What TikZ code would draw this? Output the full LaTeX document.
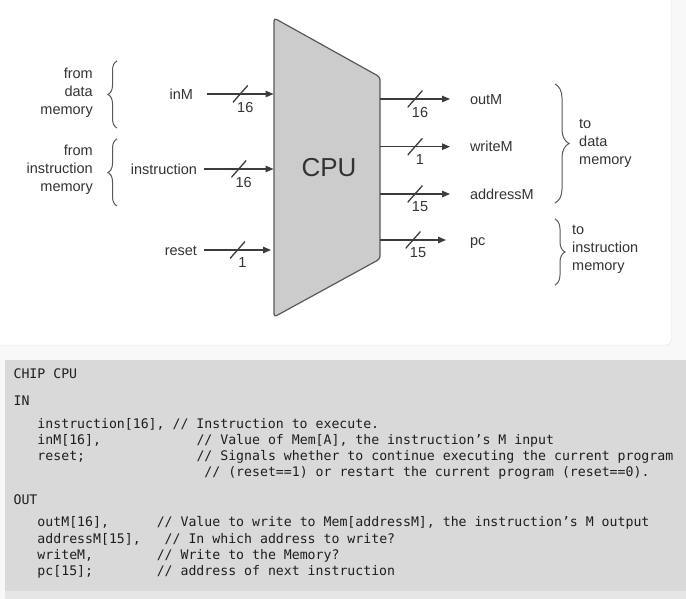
\documentclass[tikz,border=0pt]{standalone}
\usepackage{fontspec}
\setmainfont{Liberation Sans}
\setmonofont{DejaVu Sans Mono}
\usepackage{xcolor}
\definecolor{colorPage}{HTML}{F8F8F8}
\definecolor{colorCardLine}{HTML}{E2E2E2}
\definecolor{colorCode}{HTML}{D9D9D9}
\definecolor{colorCodeFoot}{HTML}{E6E6E6}
\definecolor{colorCpu}{HTML}{CCCCCC}
\definecolor{colorCpuLine}{HTML}{595959}
\definecolor{colorWire}{HTML}{3C3C3C}
\definecolor{colorText}{HTML}{333333}
\definecolor{colorCodeText}{HTML}{1E1E1E}
\usepackage{tikz}
\usetikzlibrary{arrows.meta, decorations.pathreplacing}
\tikzset{
  wire/.style={draw=colorWire, line width=1.3pt},
  inlabel/.style={anchor=east, inner sep=0pt, outer xsep=7pt, text height=10.4pt, text depth=0pt},
  outlabel/.style={anchor=west, inner sep=0pt, outer xsep=20pt, text height=10.4pt, text depth=0pt},
  slash/.style={inner sep=0pt, minimum width=15pt, minimum height=17pt,
    path picture={\draw [-, wire] (path picture bounding box.south west) -- (path picture bounding box.north east);}},
  buswidth/.style={anchor=north, inner sep=0pt, xshift=5pt, yshift=-7.3pt},
  sidetext/.style={inner sep=0pt},
  curly/.style={decorate, decoration={brace, amplitude=#1}, draw=colorCpuLine, line width=1pt},
  code/.style={anchor=west, inner sep=0pt, text=colorCodeText, text height=9.6pt, text depth=0pt,
    font=\ttfamily\fontsize{13.2}{16}\selectfont}
}

\begin{document}
\begin{tikzpicture}[x=1pt, y=-1pt, >={Triangle[length=8pt, width=6.5pt]},
  every node/.style={text=colorText, font=\fontsize{14.5}{18}\selectfont}]
\useasboundingbox (0,0) rectangle (686,599);
\fill [colorPage] (0,0) rectangle (686,599);
\draw [fill=white, draw=colorCardLine, rounded corners=6pt] (-10,-10) rectangle (671.5,345);
\fill [colorCode] (5,360) rectangle (686,591);
\fill [colorCodeFoot] (5,591) rectangle (686,599);

% the chip
\draw [fill=colorCpu, draw=colorCpuLine, line width=1.2pt, rounded corners=3pt]
  (274,18) -- (380,77) -- (380,259) -- (274,317) -- cycle;
\node (cpu) [font=\fontsize{26}{30}\selectfont, inner sep=0pt, text height=18.6pt, text depth=0pt] at (329,167) {CPU};
\coordinate (pinM) at (273.5,94);
\coordinate (pinstr) at (273.5,169);
\coordinate (preset) at (271,250);
\coordinate (poutM) at (380,99);
\coordinate (pwriteM) at (380,146.7);
\coordinate (paddrM) at (380,194);
\coordinate (ppc) at (380,240);

% inputs
\node (inM) [inlabel, outer xsep=14pt] at (207,94) {inM};
\node (instr) [inlabel] at (204,169) {instruction};
\node (rst) [inlabel] at (204,250) {reset};
\path (inM) edge [->, wire] node [slash] {} node [buswidth] {16} (pinM);
\path (instr) edge [->, wire] node [slash] {} node [buswidth] {16} (pinstr);
\path (rst) edge [->, wire] node [slash] {} node [buswidth] {1} (preset);

% outputs
\node (outM) [outlabel] at (450,99) {outM};
\node (writeM) [outlabel] at (450,146.7) {writeM};
\node (addrM) [outlabel] at (450,194) {addressM};
\node (pc) [outlabel, outer xsep=24pt] at (446,240) {pc};
\path (poutM) edge [->, wire] node [slash] {} node [buswidth] {16} (outM);
\path (pwriteM) edge [->, wire] node [slash] {} node [buswidth] {1} (writeM);
\path (paddrM) edge [->, wire] node [slash] {} node [buswidth] {15} (addrM);
\path (ppc) edge [->, wire] node [slash] {} node [buswidth] {15} (pc);

% memories
\node (fromData) [sidetext, align=right, anchor=east] at (93,93) {from\\data\\memory};
\node (fromInstr) [sidetext, align=right, anchor=east] at (93,170) {from\\instruction\\memory};
\node (toData) [sidetext, align=left, anchor=west] at (579,143) {to\\data\\memory};
\node (toInstr) [sidetext, align=left, anchor=west] at (572,249) {to\\instruction\\memory};
\draw [curly=9pt] (117,128) -- (117,61);
\draw [curly=9pt] (117,206) -- (117,139);
\draw [curly=14pt] (555,84) -- (555,203);
\draw [curly=10pt] (555,219) -- (555,285);

% chip interface listing
\node (cTitle) [code] at (13.4,374) {CHIP CPU};
\node (cIn) [code] at (13.4,401) {IN};
\node (cInstr) [code] at (37.3,424) {instruction[16], // Instruction to execute.};
\node (cInM) [code] at (37.3,440) {inM[16],};
\node (cInMc) [code] at (37.3+20*7.95,440) {// Value of Mem[A], the instruction’s M input};
\node (cRst) [code] at (37.3,456) {reset;};
\node (cRstc) [code] at (37.3+20*7.95,456) {// Signals whether to continue executing the current program};
\node (cRstd) [code] at (37.3+21*7.95,471.5) {// (reset==1) or restart the current program (reset==0).};
\node (cOut) [code] at (13.4,500) {OUT};
\node (cOutM) [code] at (37.3,521.7) {outM[16],};
\node (cOutMc) [code] at (37.3+15*7.95,521.7) {// Value to write to Mem[addressM], the instruction’s M output};
\node (cAddr) [code] at (37.3,538.3) {addressM[15],};
\node (cAddrc) [code] at (37.3+16*7.95,538.3) {// In which address to write?};
\node (cWrite) [code] at (37.3,554.5) {writeM,};
\node (cWritec) [code] at (37.3+15*7.95,554.5) {// Write to the Memory?};
\node (cPc) [code] at (37.3,571) {pc[15];};
\node (cPcc) [code] at (37.3+15*7.95,571) {// address of next instruction};
\end{tikzpicture}
\end{document}
